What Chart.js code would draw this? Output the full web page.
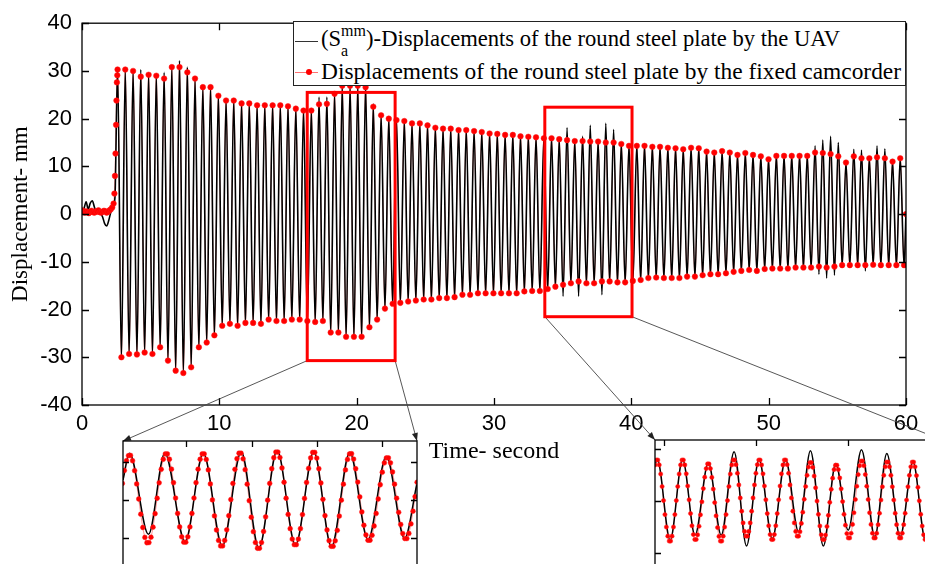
<!DOCTYPE html>
<html>
<head>
<meta charset="utf-8">
<script src="https://cdn.jsdelivr.net/npm/chart.js@4.4.1/dist/chart.umd.min.js"></script>
<style>
  html, body { margin:0; padding:0; background:#fff; width:925px; height:564px; overflow:hidden; }
  canvas { position:absolute; }
  #main { left:0; top:0; }
  #inset1 { left:112px; top:431px; }
  #inset2 { left:645px; top:430px; }
  #legend { position:absolute; left:293px; top:21px; width:613px; height:65px; box-sizing:border-box;
            border:1.5px solid #222; background:#fff; font-family:"Liberation Serif", "Times New Roman", serif;
            color:#000; }
  #legend .row { position:absolute; left:27px; white-space:nowrap; line-height:23px; }
  #legend .r1 { top:5px; font-size:22.6px; }
  #legend .r2 { top:38px; font-size:23.4px; }
  #legend .k1 { position:absolute; left:1px; top:18.5px; width:23px; border-top:1.6px solid #333; }
  #legend .k2 { position:absolute; left:1px; top:49.5px; width:23px; border-top:1px solid #ff7070; }
  #legend .k2 i { position:absolute; left:11px; top:-3.5px; width:6px; height:6px; border-radius:50%; background:#f00; }
  .ss { position:relative; display:inline-block; width:25px; height:1px; }
  .ss span { position:absolute; left:0; font-size:16px; line-height:16px; }
  .ss .up { top:-22px; }
  .ss .dn { top:-2px; }
</style>
</head>
<body>
<canvas id="main" width="925" height="564"></canvas>
<canvas id="inset1" width="316" height="150"></canvas>
<canvas id="inset2" width="310" height="155"></canvas>
<div id="legend">
  <span class="k1"></span>
  <span class="row r1">(S<span class="ss"><span class="up">mm</span><span class="dn">a</span></span>)-Displacements of the round steel plate by the UAV</span>
  <span class="k2"><i></i></span>
  <span class="row r2">Displacements of the round steel plate by the fixed camcorder</span>
</div>
<script>
// ---- main plot: one peak and one trough per oscillation cycle (s, mm) ----
const peakTimes = [
  2.59, 3.15, 3.72, 4.28, 4.85, 5.41, 5.98, 6.54, 7.10, 7.67,
  8.23, 8.80, 9.36, 9.93, 10.49, 11.05, 11.62, 12.18, 12.75, 13.31,
  13.88, 14.44, 15.00, 15.57, 16.13, 16.70, 17.26, 17.83, 18.39, 18.95,
  19.52, 20.08, 20.65, 21.21, 21.78, 22.34, 22.90, 23.47, 24.03, 24.60,
  25.16, 25.73, 26.29, 26.85, 27.42, 27.98, 28.55, 29.11, 29.68, 30.24,
  30.81, 31.37, 31.93, 32.50, 33.06, 33.63, 34.19, 34.75, 35.32, 35.88,
  36.45, 37.01, 37.58, 38.14, 38.71, 39.27, 39.83, 40.40, 40.96, 41.53,
  42.09, 42.66, 43.22, 43.78, 44.35, 44.91, 45.48, 46.04, 46.61, 47.17,
  47.73, 48.30, 48.86, 49.43, 49.99, 50.56, 51.12, 51.68, 52.25, 52.81,
  53.38, 53.94, 54.51, 55.07, 55.63, 56.20, 56.76, 57.33, 57.89, 58.46,
  59.02, 59.58
];
const troughTimes = [
  2.87, 3.43, 4.00, 4.56, 5.13, 5.69, 6.26, 6.82, 7.38, 7.95,
  8.51, 9.08, 9.64, 10.21, 10.77, 11.33, 11.90, 12.46, 13.03, 13.59,
  14.16, 14.72, 15.28, 15.85, 16.41, 16.98, 17.54, 18.11, 18.67, 19.23,
  19.80, 20.36, 20.93, 21.49, 22.06, 22.62, 23.18, 23.75, 24.31, 24.88,
  25.44, 26.01, 26.57, 27.13, 27.70, 28.26, 28.83, 29.39, 29.96, 30.52,
  31.09, 31.65, 32.21, 32.78, 33.34, 33.91, 34.47, 35.03, 35.60, 36.16,
  36.73, 37.29, 37.86, 38.42, 38.99, 39.55, 40.11, 40.68, 41.24, 41.81,
  42.37, 42.94, 43.50, 44.06, 44.63, 45.19, 45.76, 46.32, 46.89, 47.45,
  48.01, 48.58, 49.14, 49.71, 50.27, 50.84, 51.40, 51.96, 52.53, 53.09,
  53.66, 54.22, 54.79, 55.35, 55.91, 56.48, 57.04, 57.61, 58.17, 58.74,
  59.30, 59.86
];
// fixed camcorder (red)
const camPeaks = [
  30.3, 30.3, 30.0, 28.8, 29.2, 29.0, 28.4, 30.8, 30.8, 29.7,
  28.4, 26.6, 26.6, 24.8, 23.8, 23.8, 23.2, 23.2, 22.8, 22.8,
  22.8, 22.8, 22.6, 22.1, 21.7, 21.7, 23.0, 23.1, 25.2, 26.9,
  26.9, 26.9, 26.6, 22.5, 20.7, 20.0, 19.7, 19.5, 19.0, 19.0,
  18.6, 18.1, 17.9, 17.9, 17.6, 17.6, 17.4, 17.2, 16.9, 16.8,
  16.6, 16.6, 16.3, 16.2, 16.1, 15.9, 15.9, 15.7, 15.5, 15.3,
  15.3, 15.2, 15.2, 15.0, 15.0, 14.7, 14.3, 14.3, 14.3, 14.1,
  14.1, 13.9, 13.8, 13.6, 13.9, 13.8, 13.1, 12.9, 13.2, 12.9,
  12.4, 12.8, 12.4, 12.1, 11.5, 12.2, 12.2, 12.2, 12.2, 12.2,
  12.9, 12.8, 12.6, 12.1, 10.8, 12.1, 11.7, 11.7, 11.9, 11.7,
  11.0, 11.7
];
const camTroughs = [
  -30.0, -29.3, -29.4, -29.0, -29.3, -27.9, -30.7, -32.8, -33.3, -32.1,
  -27.9, -26.9, -25.4, -23.4, -23.0, -23.4, -22.8, -22.8, -23.0, -22.1,
  -22.4, -22.4, -22.1, -22.1, -22.4, -22.6, -22.4, -24.8, -24.8, -25.7,
  -25.7, -25.7, -23.7, -22.1, -19.8, -18.8, -18.6, -18.3, -18.1, -17.9,
  -17.9, -17.6, -17.6, -17.4, -16.9, -16.9, -16.6, -16.6, -16.6, -16.6,
  -16.6, -16.6, -16.2, -16.1, -16.1, -15.7, -15.2, -14.8, -14.5, -14.1,
  -14.5, -14.5, -14.1, -14.1, -14.3, -14.3, -14.0, -13.8, -13.4, -13.3,
  -13.4, -13.4, -13.4, -13.1, -13.1, -12.8, -12.6, -12.6, -12.4, -12.1,
  -11.9, -11.7, -11.9, -11.5, -11.4, -11.4, -11.4, -11.2, -11.2, -11.2,
  -11.0, -11.2, -11.0, -10.7, -10.7, -10.7, -10.7, -10.6, -10.7, -10.7,
  -10.7, -10.7
];
// UAV (black)
const uavPeaks = [
  30.5, 30.4, 30.2, 30.3, 29.4, 29.3, 29.7, 31.0, 32.2, 30.8,
  28.6, 26.8, 26.8, 25.0, 24.0, 24.0, 23.4, 23.4, 23.0, 23.0,
  23.0, 23.0, 22.8, 22.3, 21.9, 21.9, 24.5, 24.5, 25.4, 27.1,
  27.1, 27.1, 27.2, 23.1, 20.9, 20.2, 19.9, 19.7, 19.2, 19.2,
  18.8, 18.3, 18.1, 18.1, 17.8, 17.8, 17.6, 17.4, 17.1, 17.0,
  16.8, 16.8, 16.5, 16.4, 16.3, 16.1, 16.1, 15.9, 18.1, 15.5,
  16.3, 18.6, 15.4, 19.0, 17.7, 14.9, 14.5, 14.5, 14.5, 14.3,
  14.3, 14.1, 14.0, 13.8, 14.1, 14.0, 13.3, 13.1, 13.4, 13.1,
  12.6, 13.0, 12.6, 12.3, 11.7, 12.4, 12.4, 12.4, 12.4, 12.4,
  14.3, 15.5, 16.3, 15.0, 11.0, 13.6, 13.4, 11.9, 14.3, 13.7,
  11.2, 11.9
];
const uavTroughs = [
  -30.3, -29.6, -29.7, -29.3, -29.6, -28.2, -31.0, -33.0, -33.5, -32.3,
  -28.2, -27.2, -25.7, -23.7, -23.3, -23.7, -23.1, -23.1, -23.3, -22.4,
  -22.7, -22.7, -22.4, -22.4, -22.7, -22.9, -22.7, -25.1, -25.1, -26.0,
  -26.0, -26.0, -24.0, -22.4, -20.1, -19.1, -18.9, -18.6, -18.4, -18.2,
  -18.2, -17.9, -17.9, -17.7, -17.2, -17.2, -16.9, -16.9, -16.9, -16.9,
  -16.9, -16.9, -16.5, -16.4, -16.4, -16.0, -15.5, -17.2, -14.8, -17.2,
  -14.8, -14.8, -16.9, -14.4, -14.6, -14.6, -14.3, -14.1, -13.7, -13.6,
  -13.7, -13.7, -13.7, -13.4, -13.4, -13.1, -12.9, -12.9, -12.7, -12.4,
  -12.2, -12.0, -12.2, -11.8, -11.7, -11.7, -11.7, -11.5, -11.5, -11.5,
  -12.6, -13.4, -12.8, -11.0, -11.0, -11.0, -11.9, -10.9, -11.0, -11.0,
  -11.0, -11.0
];
// before the plate is released, and the last sample at 60 s
const uavPreTimes = [0.00, 0.15, 0.30, 0.45, 0.60, 0.75, 0.90, 1.05, 1.20, 1.35, 1.50, 1.65, 1.80, 1.95, 2.10, 2.25, 2.40];
const uavPreValues = [0.3, 1.2, 2.6, 1.0, 2.3, 2.8, 1.5, 0.4, 0.9, 0.2, -0.6, -2.0, -2.5, -1.3, 0.4, 1.4, 3.5];
const camPreTimes = [0.0, 0.1, 0.2, 0.3, 0.4, 0.5, 0.6, 0.7, 0.8, 0.9, 1.0, 1.1, 1.2, 1.3, 1.4, 1.5, 1.6, 1.7,
  1.8, 1.9, 2.0, 2.1, 2.2, 2.3, 2.36, 2.40, 2.44, 2.48, 2.51, 2.54, 2.57];
const camPreValues = [0.8, 0.5, 0.3, 0.6, 0.4, 0.2, 0.5, 0.7, 0.4, 0.3, 0.6, 0.5, 0.8, 0.4, 0.3, 0.5, 0.7, 0.6,
  0.3, 0.5, 0.8, 1.0, 1.4, 2.2, 4.3, 8.0, 12.7, 18.7, 23.8, 27.6, 29.1];
const tailTimes = [60.0];
const uavTail = [0.5];
const camTail = [0.0];

// ---- inset 1 (zoom of the first red box) ----
const in1PeakTimes = [17.13, 17.67, 18.26, 18.84, 19.39, 19.95, 20.50, 21.06];
const in1TroughTimes = [17.42, 17.98, 18.55, 19.11, 19.67, 20.22, 20.78, 21.34];
const in1UavPeaks = [24.6, 24.6, 24.6, 25.4, 26.0, 25.4, 25.1, 22.8];
const in1UavTroughs = [-18.1, -21.9, -24.2, -25.4, -23.7, -24.6, -21.0, -20.2];
const in1Ends = [17.03, 21.53], in1UavEnds = [10.5, 8.8];
// camcorder frames in inset 1: first frame time, frame interval, values
const in1CamStart = 17.02, in1CamStep = 0.03133;
const in1CamValues = [
  8.7, 15.5, 20.6, 23.3,
  23.4, 20.6, 15.4, 8.4, 0.5, -7.5, -14.5, -19.7, -22.5,
  -22.4, -19.6, -14.3, -7.2, 0.9, 9.0, 16.1, 21.4, 24.2,
  24.2, 21.4, 16.2, 9.1, 1.0, -7.1, -14.2, -19.4, -22.2,
  -22.2, -19.4, -14.2, -7.1, 1.0, 9.1, 16.2, 21.4, 24.2,
  24.2, 21.3, 15.8, 8.4, 0.0, -8.4, -15.8, -21.3, -24.2,
  -24.2, -21.3, -15.7, -8.3, 0.2, 8.7, 16.1, 21.7, 24.6,
  24.6, 21.6, 15.9, 8.3, -0.4, -9.1, -16.7, -22.4, -25.4,
  -25.4, -22.4, -16.6, -8.9, -0.1, 8.7, 16.4, 22.2, 25.2,
  25.2, 22.3, 16.8, 9.3, 0.9, -7.6, -15.1, -20.6, -23.5,
  -23.5, -20.6, -15.1, -7.7, 0.8, 9.2, 16.6, 22.1, 25.0,
  25.0, 22.0, 16.4, 8.9, 0.3, -8.3, -15.8, -21.4, -24.4,
  -24.4, -21.5, -16.0, -8.5, -0.1, 8.3, 15.8, 21.3, 24.2,
  24.3, 21.5, 16.4, 9.4, 1.6, -6.3, -13.3, -18.4, -21.2,
  -21.2, -18.6, -13.7, -7.1, 0.5, 8.0, 14.6, 19.5, 22.1,
  22.1, 19.5, 14.7, 8.3, 0.9, -6.5, -12.9, -17.7, -20.3,
  -20.3, -17.6, -12.6, -5.9, 1.7, 9.3
];

// ---- inset 2 (zoom of the second red box) ----
const in2PeakTimes = [33.86, 34.41, 34.97, 35.53, 36.07, 36.65, 37.19, 37.74, 38.30, 38.85, 39.42];
const in2TroughTimes = [34.14, 34.68, 35.25, 35.80, 36.36, 36.93, 37.47, 38.01, 38.59, 39.14, 39.69];
const in2UavPeaks = [16.0, 16.0, 14.7, 19.0, 16.0, 16.0, 19.4, 14.5, 19.7, 18.3, 15.0];
const in2UavTroughs = [-15.0, -13.1, -13.1, -17.3, -14.4, -11.8, -17.3, -11.2, -13.7, -13.7, -15.0];
const in2Ends = [33.81, 40.0], in2UavEnds = [14.0, 15.0];
const in2CamStart = 33.81, in2CamStep = 0.0309;
const in2CamValues = [
  13.9, 15.8,
  15.8, 13.9, 10.4, 5.6, 0.2, -5.2, -10.0, -13.5, -15.4,
  -15.4, -13.5, -10.0, -5.2, 0.2, 5.6, 10.4, 13.9, 15.8,
  15.8, 13.9, 10.5, 5.8, 0.5, -4.8, -9.5, -12.9, -14.8,
  -14.8, -13.0, -9.7, -5.3, -0.3, 4.8, 9.2, 12.5, 14.3,
  14.3, 12.5, 9.1, 4.6, -0.6, -5.7, -10.2, -13.6, -15.4,
  -15.4, -13.5, -10.0, -5.2, 0.2, 5.6, 10.4, 13.9, 15.8,
  15.8, 14.0, 10.7, 6.2, 1.2, -3.9, -8.4, -11.7, -13.5,
  -13.5, -11.7, -8.4, -3.9, 1.2, 6.2, 10.7, 14.0, 15.8,
  15.8, 13.9, 10.5, 5.8, 0.5, -4.8, -9.5, -12.9, -14.8,
  -14.8, -12.9, -9.5, -4.8, 0.5, 5.8, 10.5, 13.9, 15.8,
  15.8, 14.0, 10.7, 6.2, 1.2, -3.9, -8.4, -11.7, -13.5,
  -13.5, -11.8, -8.6, -4.3, 0.7, 5.6, 9.9, 13.1, 14.8,
  14.8, 13.0, 9.6, 5.1, 0.0, -5.1, -9.6, -13.0, -14.8,
  -14.8, -13.1, -9.8, -5.5, -0.5, 4.5, 8.8, 12.1, 13.8,
  13.8, 12.1, 8.9, 4.7, -0.2, -5.1, -9.3, -12.5, -14.2,
  -14.2, -12.4, -9.0, -4.5, 0.6, 5.7, 10.2, 13.6, 15.4,
  15.4, 13.6, 10.2, 5.7, 0.6, -4.5, -9.0, -12.4, -14.2,
  -14.2, -12.4, -9.1, -4.7, 0.4, 5.5, 9.9, 13.2, 15.0,
  15.0, 13.2, 9.9, 5.5, 0.4, -4.7, -9.1, -12.4, -14.2,
  -14.2, -12.4, -9.1, -4.7, 0.4, 5.5, 9.9, 13.2, 15.0,
  15.0, 13.2, 9.8, 5.3, 0.1, -5.1, -9.6, -13.0, -14.8,
  -14.8, -13.0, -9.6
];

// red boxes on the main plot (data units)
const zoomBoxes = [
  { from: 16.4, to: 22.8, low: -30.7, high: 25.5 },
  { from: 33.7, to: 40.05, low: -21.5, high: 22.4 }
];

function toPoints(ts, vs) { return ts.map((t, i) => ({ x: t, y: vs[i] })); }
function frames(start, step, vs) { return vs.map((v, i) => ({ x: start + i * step, y: v })); }
function cycles(pT, pV, tT, tV) {
  const out = [];
  pT.forEach((t, i) => { out.push({ x: t, y: pV[i] }); out.push({ x: tT[i], y: tV[i] }); });
  return out;
}
function byTime(a, b) { return a.x - b.x; }

const uavMain = toPoints(uavPreTimes, uavPreValues)
  .concat(cycles(peakTimes, uavPeaks, troughTimes, uavTroughs), toPoints(tailTimes, uavTail));
const camMain = toPoints(camPreTimes, camPreValues)
  .concat(cycles(peakTimes, camPeaks, troughTimes, camTroughs), toPoints(tailTimes, camTail));

const in1Uav = cycles(in1PeakTimes, in1UavPeaks, in1TroughTimes, in1UavTroughs).concat(toPoints(in1Ends, in1UavEnds)).sort(byTime);
const in1Cam = frames(in1CamStart, in1CamStep, in1CamValues);
const in2Uav = cycles(in2PeakTimes, in2UavPeaks, in2TroughTimes, in2UavTroughs).concat(toPoints(in2Ends, in2UavEnds)).sort(byTime);
const in2Cam = frames(in2CamStart, in2CamStep, in2CamValues);

// inward tick marks on all four sides plus the box, MATLAB style
const frame = {
  id: 'frame',
  afterDatasetsDraw(chart, args, opts) {
    const { ctx, chartArea: a, scales: { x, y } } = chart;
    const L = opts.len;
    ctx.save();
    ctx.strokeStyle = '#000';
    ctx.lineWidth = opts.width;
    ctx.beginPath();
    x.ticks.forEach(t => {
      const p = Math.round(x.getPixelForValue(t.value)) + 0.5;
      ctx.moveTo(p, a.top); ctx.lineTo(p, a.top + L);
      ctx.moveTo(p, a.bottom); ctx.lineTo(p, a.bottom - L);
    });
    y.ticks.forEach(t => {
      const p = Math.round(y.getPixelForValue(t.value)) + 0.5;
      ctx.moveTo(a.left, p); ctx.lineTo(a.left + L, p);
      ctx.moveTo(a.right, p); ctx.lineTo(a.right - L, p);
    });
    ctx.stroke();
    ctx.strokeRect(a.left, a.top, a.right - a.left, a.bottom - a.top);
    ctx.restore();
  }
};

function arrow(ctx, x0, y0, x1, y1) {
  ctx.beginPath(); ctx.moveTo(x0, y0); ctx.lineTo(x1, y1); ctx.stroke();
  const ang = Math.atan2(y1 - y0, x1 - x0), len = 8, half = 3;
  ctx.beginPath();
  ctx.moveTo(x1, y1);
  ctx.lineTo(x1 - len * Math.cos(ang) + half * Math.sin(ang), y1 - len * Math.sin(ang) - half * Math.cos(ang));
  ctx.lineTo(x1 - len * Math.cos(ang) - half * Math.sin(ang), y1 - len * Math.sin(ang) + half * Math.cos(ang));
  ctx.closePath(); ctx.fill();
}

const insets = [];
const zoomLinks = {
  id: 'zoomLinks',
  afterDraw(chart) {
    const { ctx, scales: { x, y } } = chart;
    ctx.save();
    zoomBoxes.forEach((b, i) => {
      const l = x.getPixelForValue(b.from), r = x.getPixelForValue(b.to);
      const t = y.getPixelForValue(b.high), bt = y.getPixelForValue(b.low);
      const ic = insets[i], ca = ic.chartArea, cv = ic.canvas;
      ctx.strokeStyle = '#444'; ctx.fillStyle = '#222'; ctx.lineWidth = 0.9;
      arrow(ctx, l, bt, cv.offsetLeft + ca.left, cv.offsetTop + ca.top);
      arrow(ctx, r, bt, cv.offsetLeft + ca.right, cv.offsetTop + ca.top);
      ctx.strokeStyle = '#ff0000'; ctx.lineWidth = 3;
      ctx.strokeRect(l, t, r - l, bt - t);
    });
    ctx.restore();
  }
};

function datasets(uav, cam, uavWidth, dotRadius) {
  return [
    { data: cam, borderColor: 'rgba(255,70,70,0.55)', borderWidth: 1, pointRadius: 0,
      cubicInterpolationMode: 'monotone', order: 3 },
    { data: uav, borderColor: '#000', borderWidth: uavWidth, pointRadius: 0,
      cubicInterpolationMode: 'monotone', order: 2 },
    { data: cam, showLine: false, pointRadius: dotRadius, pointBackgroundColor: '#ff0000',
      pointBorderColor: '#ff1a1a', pointBorderWidth: 0.5, order: 1 }
  ];
}

function hiddenAxis(min, max, step, horizontal) {
  return {
    type: 'linear', min: min, max: max,
    ticks: { display: false, stepSize: step, includeBounds: false },
    grid: { display: false, drawTicks: false }, border: { display: false },
    afterFit(s) { if (horizontal) s.height = 0; else s.width = 0; }
  };
}

function makeInset(id, xr, yr, pad, uav, cam, dot) {
  return new Chart(document.getElementById(id), {
    type: 'line',
    data: { datasets: datasets(uav, cam, 1.5, dot) },
    options: {
      responsive: false, animation: false, events: [],
      layout: { padding: pad },
      scales: { x: hiddenAxis(xr[0], xr[1], xr[2], true), y: hiddenAxis(yr[0], yr[1], yr[2], false) },
      plugins: { legend: { display: false }, tooltip: { enabled: false }, frame: { len: 6, width: 1.3 } }
    },
    plugins: [frame]
  });
}

insets.push(makeInset('inset1', [17.03, 21.53, 1], [-40, 31, 20],
  { left: 11, top: 10, right: 11, bottom: 5 }, in1Uav, in1Cam, 2.4));
insets.push(makeInset('inset2', [33.81, 40.05, 2], [-30, 23.5, 20],
  { left: 10, top: 10, right: 13, bottom: 6 }, in2Uav, in2Cam, 2.1));

const tickFont = { family: 'Liberation Sans', size: 22 };

new Chart(document.getElementById('main'), {
  type: 'line',
  data: { datasets: datasets(uavMain, camMain, 1.6, 2.8) },
  options: {
    responsive: false, animation: false, events: [],
    layout: { padding: { left: 0, top: 18, right: 19, bottom: 98 } },
    scales: {
      x: {
        type: 'linear', min: 0, max: 60,
        ticks: { stepSize: 10, color: '#000', font: tickFont, padding: 6, maxRotation: 0 },
        grid: { display: false, drawTicks: false }, border: { display: false },
        title: { display: true, text: 'Time- second', color: '#000',
                 font: { family: 'Liberation Serif', size: 24 }, padding: 0 },
        afterFit(s) { s.height = 61; }
      },
      y: {
        type: 'linear', min: -40, max: 40,
        ticks: { stepSize: 10, color: '#000', font: tickFont, padding: 10 },
        grid: { display: false, drawTicks: false }, border: { display: false },
        title: { display: true, text: 'Displacement- mm', color: '#000',
                 font: { family: 'Liberation Serif', size: 23 }, padding: { top: 7, bottom: 0 } },
        afterFit(s) { s.width = 82; }
      }
    },
    plugins: { legend: { display: false }, tooltip: { enabled: false }, frame: { len: 7, width: 1.3 } }
  },
  plugins: [frame, zoomLinks]
});
</script>
</body>
</html>
